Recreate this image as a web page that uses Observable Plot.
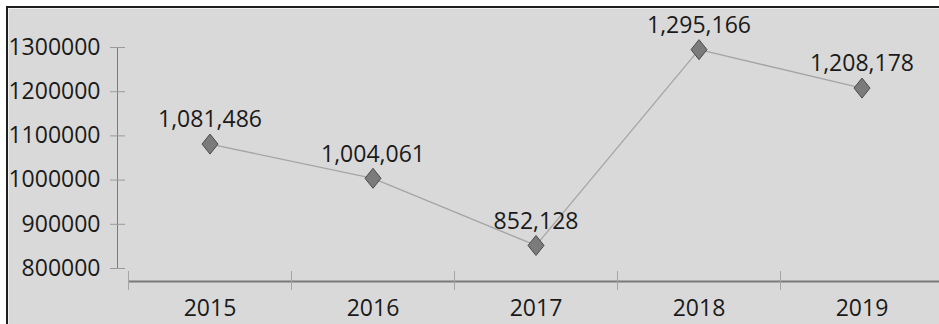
<!DOCTYPE html>
<html>
<head>
<meta charset="utf-8">
<script src="https://cdn.jsdelivr.net/npm/d3@7"></script>
<script src="https://cdn.jsdelivr.net/npm/@observablehq/plot@0.6"></script>
<style>
  html, body { margin: 0; padding: 0; background: #ffffff; }
  #wrap { position: relative; width: 939px; height: 324px; overflow: hidden; }
  #bg { position: absolute; left: 6px; top: 6px; right: 0; bottom: 0;
        background: #d9d9d9; border-top: 2px solid #1e1e1e; border-left: 2px solid #1e1e1e;
        box-shadow: inset 1px 1px 0 #f0f0f0; }
  #chart { position: absolute; left: 0; top: 0; }
</style>
</head>
<body>
<div id="wrap"><div id="bg"></div><div id="chart"></div></div>
<script>
const years = ["2015", "2016", "2017", "2018", "2019"];
const values = [1081486, 1004061, 852128, 1295166, 1208178];
const yTicks = [800000, 900000, 1000000, 1100000, 1200000, 1300000];

const data = years.map((year, i) => ({year, value: values[i]}));
const xRange = [128, 943];
const halfBand = (xRange[1] - xRange[0]) / years.length / 2;

const diamond = {
  draw(context, size) {
    const s = Math.sqrt(size / Math.PI);
    context.moveTo(0, -s);
    context.lineTo(0.8 * s, 0);
    context.lineTo(0, s);
    context.lineTo(-0.8 * s, 0);
    context.closePath();
  }
};

const fmt = d3.format(",");

const chart = Plot.plot({
  width: 939,
  height: 324,
  marginLeft: 117,
  marginRight: 0,
  marginTop: 47,
  marginBottom: 56,
  style: {background: "transparent", fontFamily: "'Open Sans', sans-serif", fontSize: "23px", fontWeight: 500, color: "#1a1a1a"},
  x: {type: "band", domain: years, range: xRange, padding: 0, axis: null, label: null},
  y: {domain: [800000, 1300000], axis: null, label: null},
  marks: [
    Plot.frame({anchor: "left", stroke: "#7a7a7a"}),
    Plot.axisY(yTicks, {label: null, tickSize: 15, dx: 8, tickFormat: () => "", stroke: "#9a9a9a"}),
    Plot.axisY(yTicks, {label: null, tickSize: 0, tickPadding: 17, tickFormat: d => String(d), fill: "#1a1a1a", fontSize: 23}),
    Plot.ruleY([800000], {dy: 13, dx: 11, stroke: "#7a7a7a", strokeWidth: 2}),
    Plot.axisX(years, {label: null, tickSize: 19, dy: 3, dx: -halfBand, tickFormat: () => "", stroke: "#a5a5a5"}),
    Plot.axisX(years, {label: null, tickSize: 0, tickPadding: 31, fill: "#1a1a1a", fontSize: 23}),
    Plot.line(data, {x: "year", y: "value", stroke: "#a5a5a5", strokeWidth: 1.3}),
    Plot.dot(data, {x: "year", y: "value", r: 10, symbol: diamond, fill: "#7b7b7b", stroke: "#4a4a4a", strokeWidth: 1}),
    Plot.text(data, {x: "year", y: "value", text: d => fmt(d.value), dy: -24, fill: "#1a1a1a", fontSize: 23})
  ]
});
document.getElementById("chart").appendChild(chart);
</script>
</body>
</html>
